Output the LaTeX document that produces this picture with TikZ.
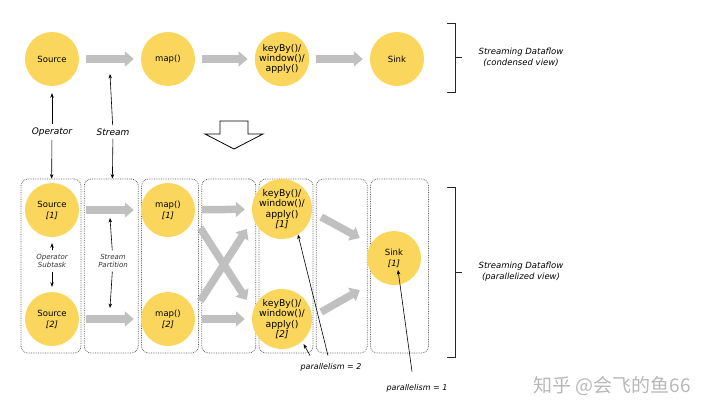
\documentclass[tikz,border=0pt]{standalone}
\usepackage{fontspec}
\setmainfont{DejaVu Sans}
\newfontfamily\cjkfont{Noto Sans CJK SC}
\usepackage{tikz}
\usetikzlibrary{positioning, calc, arrows.meta}
\definecolor{opyellow}{RGB}{250,214,92}
\definecolor{flowgray}{RGB}{192,192,192}
\tikzset{operator/.style={circle,fill=opyellow,minimum size=54pt,inner sep=0pt,align=center,
		font=\fontsize{8.5}{11}\selectfont},
	wide/.style={font=\fontsize{9.3}{10.3}\selectfont},
	flow/.style={draw=flowgray,line width=7.5pt,-{Triangle[width=15pt,length=9pt]},
		shorten <=7pt, shorten >=7pt},
	pointer/.style={draw=black,line width=0.6pt,-{Stealth[length=4.5pt,width=3.5pt]}},
	lane/.style={draw=black!65,densely dotted,line width=0.75pt,rounded corners=7pt,
		minimum height=174pt},
	opname/.style={font=\fontsize{9}{11}\selectfont\itshape},
	smalltag/.style={font=\fontsize{7}{8.7}\selectfont\itshape,text=black!80,align=center},
	viewname/.style={font=\fontsize{8.5}{11}\selectfont\itshape,align=center},
	brace/.style={draw=black!85,line width=1pt} }

\begin{document}
\begin{tikzpicture}
	[x=1pt, y=-1pt, node distance=2.5pt]
  \useasboundingbox (0,0) rectangle (720,415);

  % condensed view
  \node (src) [operator] at (52,59) {Source};
  \node (map) [operator] at (168,59) {map()};
  \node (keyby) [operator, wide] at (282,59) {keyBy()/\\window()/\\apply()};
  \node (sink) [operator] at (397,59) {Sink};
  \draw[flow] (src) -- (map);
  \draw[flow] (map) -- (keyby);
  \draw[flow] (keyby) -- (sink);

  \node (oplbl) [opname] at (52,132) {Operator};
  \node (strlbl) [opname] at (113,132) {Stream};

  \draw[brace] (447,23) -- (455,23) -- (455,92) -- (447,92) (455,57) -- (462,57);
  \node (condensed) [viewname] at (521,57) {Streaming Dataflow\\(condensed view)};

  \draw[line width=0.8pt] (220,121) -- (248,121) -- (248,134) -- (263,134) -- (234,149)
  	-- (205,134) -- (220,134) -- cycle;

  % parallelized view
  \node (lane1) [lane, minimum width=60pt] at (51,266) {};
  \node (lane2) [lane, minimum width=54pt, right=of lane1] {};
  \node (lane3) [lane, minimum width=57pt, right=of lane2] {};
  \node (lane4) [lane, minimum width=54pt, right=of lane3] {};
  \node (lane5) [lane, minimum width=54pt, right=of lane4] {};
  \node (lane6) [lane, minimum width=51pt, right=of lane5] {};
  \node (lane7) [lane, minimum width=58pt, right=of lane6] {};

  \node (src1) [operator] at (52,210) {Source\\\textit{[1]}};
  \node (src2) [operator] at (52,319) {Source\\\textit{[2]}};
  \node (map1) [operator] at (168,210) {map()\\\textit{[1]}};
  \node (map2) [operator] at (168,319) {map()\\\textit{[2]}};
  \node (kb1) [operator, wide] at (282,209) {keyBy()/\\window()/\\apply()\\\textit{[1]}};
  \node (kb2) [operator, wide] at (282,319) {keyBy()/\\window()/\\apply()\\\textit{[2]}};
  \node (sink1) [operator] at (394,258) {Sink\\\textit{[1]}};

  \draw[flow] (src1) -- (map1);
  \draw[flow] (src2) -- (map2);
  \draw[flow] (map1) -- (kb1);
  \draw[flow] (map2) -- (kb2);
  \draw[flow, shorten <=0pt, shorten >=0pt] ($(map1.east)+(5,18)$) -- ($(kb2.west)+(-5,-19)$);
  \draw[flow, shorten <=0pt, shorten >=0pt] ($(map2.east)+(5,-18)$) -- ($(kb1.west)+(-5,20)$);
  \draw[flow, shorten <=0pt, shorten >=0pt] ($(kb1.east)+(9,8)$) -- ($(sink1.west)+(-7,-20)$);
  \draw[flow, shorten <=0pt, shorten >=0pt] ($(kb2.east)+(9,-7)$) -- ($(sink1.west)+(-7,32)$);

  \node (opsub) [smalltag] at (52,261) {Operator\\Subtask};
  \node (spart) [smalltag] at (113,261) {Stream\\Partition};

  \draw[brace] (447,187) -- (455,187) -- (455,357) -- (447,357) (455,272) -- (462,272);
  \node (parallelized) [viewname] at (521,272) {Streaming Dataflow\\(parallelized view)};

  \node (par2) [opname, font=\fontsize{8}{10}\selectfont\itshape] at (331,367) {parallelism = 2};
  \node (par1) [opname, font=\fontsize{8}{10}\selectfont\itshape] at (417,388) {parallelism = 1};

  \draw[pointer, shorten >=7pt] (oplbl) -- (src);
  \draw[pointer] (oplbl) -- (lane1);
  \draw[pointer] (strlbl) -- ($(src)!.5!(map)+(0,15)$);
  \draw[pointer] (strlbl) -- (lane2);
  \draw[pointer, shorten >=6pt] (opsub) -- (src1);
  \draw[pointer, shorten >=5pt] (opsub) -- (src2);
  \draw[pointer] (spart) -- ($(src1)!.5!(map1)+(0,8)$);
  \draw[pointer] (spart) -- ($(src2)!.5!(map2)+(0,-11)$);
  \draw[pointer] ($(par2.north)+(-3,-4)$) -- (kb1.-58);
  \draw[pointer, shorten >=3pt] ($(par2.north)+(-21,-4)$) -- (kb2.-48);
  \draw[pointer] ($(par1.north)+(-5,-9)$) -- ($(sink1)+(4,12)$);

  \node (mark) [text=black!28, font=\cjkfont\fontsize{19}{19}\selectfont] at (612,386) {知乎 @会飞的鱼66};
\end{tikzpicture}
\end{document}
